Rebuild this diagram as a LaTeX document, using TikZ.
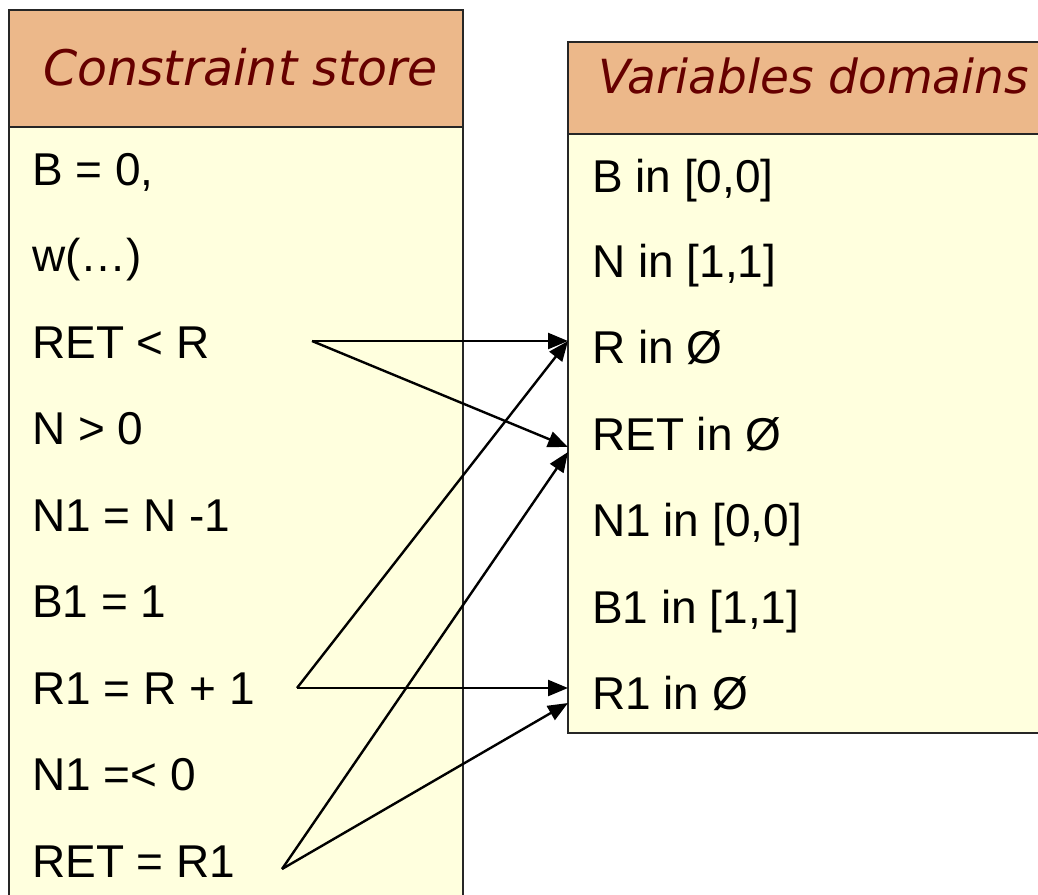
\documentclass[tikz,border=0pt]{standalone}
\usepackage{fontspec}
\setmainfont{Liberation Sans}
\newfontfamily\headfont{DejaVu Sans}
\usetikzlibrary{arrows.meta}
\definecolor{headfill}{RGB}{236,184,138}
\definecolor{bodyfill}{RGB}{255,255,222}
\definecolor{headtext}{RGB}{102,0,0}
\tikzset{
  panel/.style={draw=black!85, line width=2.8pt},
  headbox/.style={panel, fill=headfill},
  bodybox/.style={panel, fill=bodyfill},
  headlabel/.style={anchor=base west, inner sep=0pt, text=headtext,
    font=\headfont\itshape\fontsize{49}{54}\selectfont},
  item/.style={anchor=base west, inner sep=0pt,
    font=\fontsize{46}{50}\selectfont},
  link/.style={line width=2.4pt, -{Triangle[length=20pt,width=16pt]}},
}
\begin{document}
\begin{tikzpicture}[x=1pt,y=-1pt]
\useasboundingbox (0,0) rectangle (1038,894);
\begin{scope}
\clip (0,0) rectangle (1038,894);

% constraint store panel
\draw[headbox] (9,10) rectangle (463,127);
\draw[bodybox] (9,127) rectangle (463,920);
\node[headlabel] (cshead) at (43,85) {Constraint store};

% variable domains panel
\draw[headbox] (568,42) rectangle (1060,134);
\draw[bodybox] (568,134) rectangle (1060,733);
\node[headlabel, font=\headfont\itshape\fontsize{47}{52}\selectfont]
  (vdhead) at (598,93) {Variables domains};

% constraints
\node[item] (c1) at (32,185) {B = 0,};
\node[item] (c2) at (32,271.5) {w(…)};
\node[item] (c3) at (32,358) {RET < R};
\node[item] (c4) at (32,444.5) {N > 0};
\node[item] (c5) at (32,531) {N1 = N -1};
\node[item] (c6) at (32,617.5) {B1 = 1};
\node[item] (c7) at (32,704) {R1 = R + 1};
\node[item] (c8) at (32,790.5) {N1 =< 0};
\node[item] (c9) at (32,877) {RET = R1};

% domains
\node[item] (d1) at (592,192) {B in [0,0]};
\node[item] (d2) at (592,277.5) {N in [1,1]};
\node[item] (d3) at (592,363) {R in Ø};
\node[item] (d4) at (592,450) {RET in Ø};
\node[item] (d5) at (592,536.5) {N1 in [0,0]};
\node[item] (d6) at (592,623) {B1 in [1,1]};
\node[item] (d7) at (592,709.5) {R1 in Ø};

% link end points
\coordinate (s3) at (312,341);
\coordinate (s7) at (297,688);
\coordinate (s9) at (282,869);
\coordinate (t3) at (568,341);
\coordinate (t4a) at (568,447);
\coordinate (t4b) at (568,452);
\coordinate (t7a) at (568,688);
\coordinate (t7b) at (568,703);

% variable links
\draw[link] (s3) -- (t3);
\draw[link] (s3) -- (t4a);
\draw[link] (s7) -- (t3);
\draw[link] (s7) -- (t7a);
\draw[link] (s9) -- (t4b);
\draw[link] (s9) -- (t7b);
\end{scope}
\end{tikzpicture}
\end{document}
